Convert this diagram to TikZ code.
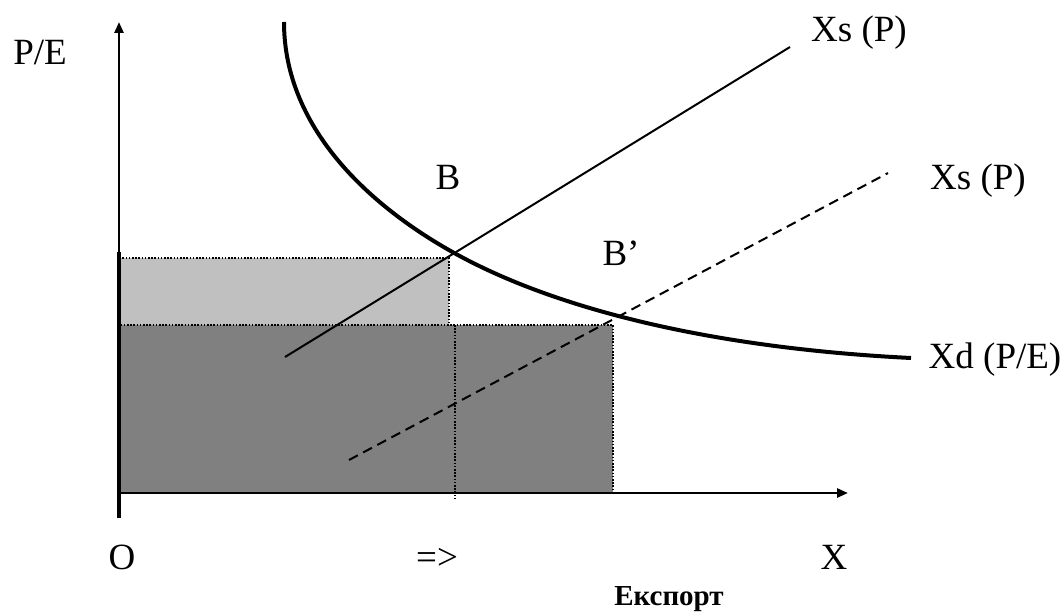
\documentclass[tikz,border=0pt]{standalone}
\usepackage{fontspec}
\setmainfont{Liberation Serif}
\usetikzlibrary{arrows.meta}
\begin{document}
\begin{tikzpicture}[x=1pt,y=-1pt,
  lbl/.style={anchor=base, inner sep=0pt, font=\fontsize{37}{40}\selectfont},
  boldlbl/.style={anchor=base, inner sep=0pt, font=\fontsize{29}{32}\selectfont\bfseries},
  axisline/.style={line width=2.5pt, -{Triangle[length=11pt,width=9pt]}},
  dotborder/.style={line width=1.6pt, dash pattern=on 1.6pt off 1.6pt},
  supply/.style={line width=2pt},
  shifted/.style={line width=2pt, dash pattern=on 10pt off 6pt},
  demand/.style={line width=4pt},
  lightfill/.style={fill={rgb,255:red,192;green,192;blue,192}},
  darkfill/.style={fill={rgb,255:red,128;green,128;blue,128}}
]
\path[use as bounding box] (0,0) rectangle (1064,612);

% key coordinates
\coordinate (O) at (119,493);
\coordinate (ytip) at (119,22);
\coordinate (ybot) at (119,518);
\coordinate (xtip) at (848,493);
\coordinate (L1) at (449,258);
\coordinate (D1) at (613,325);
\coordinate (V1) at (455,325);
\coordinate (V2) at (455,500);

% shaded areas
\fill[lightfill] (119,258) rectangle (449,325);
\fill[darkfill] (119,325) rectangle (613,493);
\draw[dotborder] (119,325) -- (119,258) -- (L1) -- (449,325);
\draw[dotborder] (119,493) rectangle (D1);
\draw[dotborder] (V1) -- (V2);

% axes
\draw[axisline] (ybot) -- (ytip);
\draw[line width=4pt] (119,252) -- (ybot);
\draw[axisline] (O) -- (xtip);

% supply lines
\coordinate (s1a) at (285,357);
\coordinate (s1b) at (790,47);
\draw[supply] (s1a) -- (s1b);
\coordinate (s2a) at (349,460);
\coordinate (s2b) at (888,173);
\draw[shifted] (s2a) -- (s2b);

% demand curve
\coordinate (d0) at (284,22);
\coordinate (dB) at (456,254);
\coordinate (d1) at (911,358);
\draw[demand] (d0) .. controls (284,132) and (376,210) .. (dB)
  .. controls (556,309) and (711,348) .. (d1);

% labels
\node[lbl] (pe) at (40,65) {P/E};
\node[lbl] (b) at (448,190) {B};
\node[lbl] (bp) at (621,265) {B’};
\node[lbl] (xs1) at (859,42) {Xs (P)};
\node[lbl] (xs2) at (978,190) {Xs (P)};
\node[lbl] (xd) at (995,368) {Xd (P/E)};
\node[lbl] (o) at (122,569) {O};
\node[lbl] (arr) at (437,569) {=>};
\node[lbl] (x) at (834,569) {X};
\node[boldlbl] (exp) at (669,605) {Експорт};
\end{tikzpicture}
\end{document}
